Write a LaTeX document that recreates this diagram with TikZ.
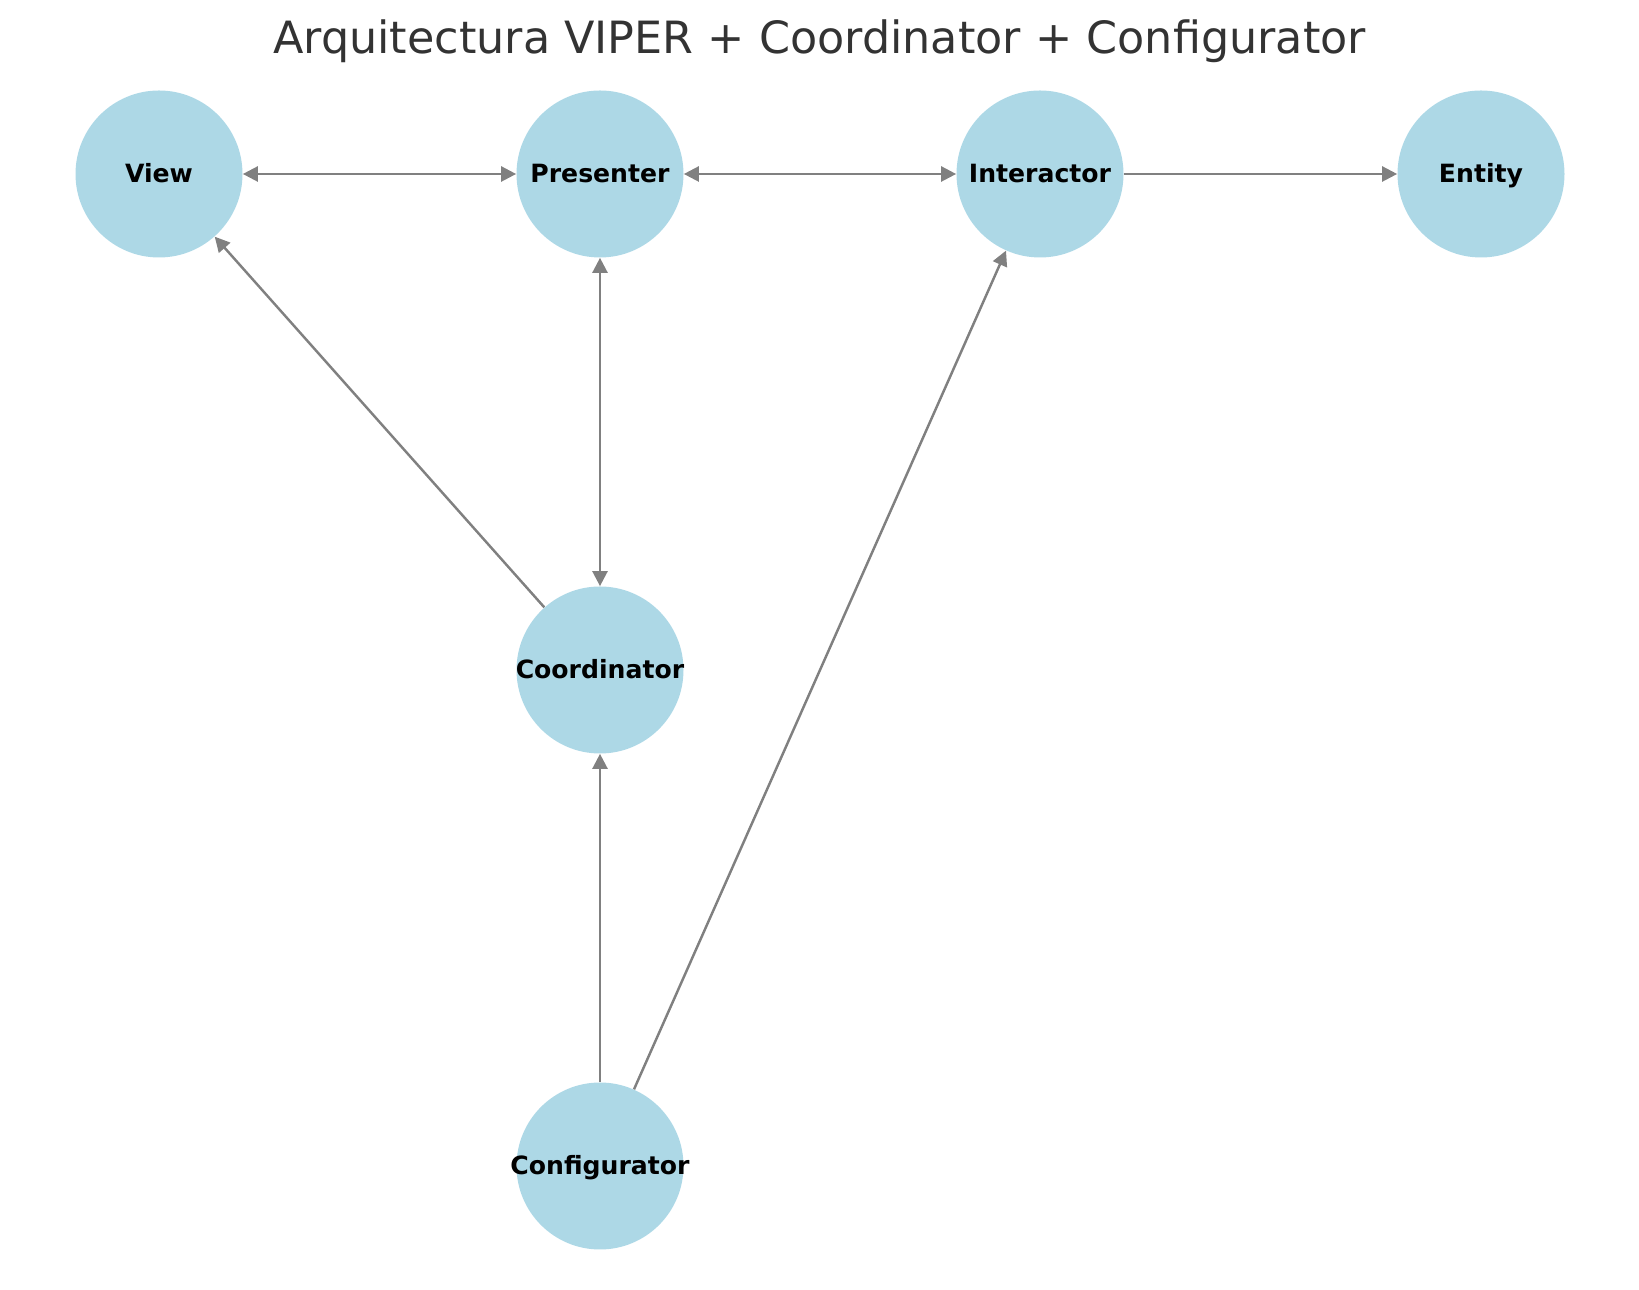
\documentclass[tikz,border=0pt]{standalone}
\usepackage{fontspec}
\setmainfont{DejaVu Sans}
\usepackage{xcolor}
\usetikzlibrary{arrows.meta, positioning}
\definecolor{nodeblue}{RGB}{173,216,230}
\definecolor{titlegray}{RGB}{51,51,51}
\newcommand{\etiq}[1]{\makebox[0pt]{#1}}

\begin{document}
\begin{tikzpicture}
    \tikzstyle{modulo} = [circle, minimum size=3.34cm, inner sep=0pt, fill=nodeblue,
        font=\fontsize{14.3}{17}\selectfont\bfseries, text=black,
        text height=1em, text depth=0em]
    \tikzstyle{arrow} = [draw=gray, line width=1.4pt, -{Stealth[length=0.3cm, width=0.3cm, inset=0pt]}]
    \tikzstyle{both} = [draw=gray, line width=1.4pt,
        {Stealth[length=0.3cm, width=0.3cm, inset=0pt]}-{Stealth[length=0.3cm, width=0.3cm, inset=0pt]}]

    \useasboundingbox (0,0) rectangle (32.78,25.8);

    \node (title) at (16.39, 24.98) [font=\fontsize{25.3}{30}\selectfont, text=titlegray]
        {Arquitectura VIPER + Coordinator + Configurator};

    \node (view) [modulo] at (3.18, 22.32) {\etiq{View}};
    \node (presenter) [modulo] at (12.0, 22.32) {\etiq{Presenter}};
    \node (interactor) [modulo] at (20.8, 22.32) {\etiq{Interactor}};
    \node (entity) [modulo] at (29.62, 22.32) {\etiq{Entity}};
    \node (coordinator) [modulo] at (12.0, 12.4) {\etiq{Coordinator}};
    \node (configurator) [modulo] at (12.0, 2.48) {\etiq{Configurator}};

    \draw [both] (view) -- (presenter);
    \draw [both] (presenter) -- (interactor);
    \draw [arrow] (interactor) -- (entity);
    \draw [both] (presenter) -- (coordinator);
    \draw [arrow] (coordinator) -- (view);
    \draw [arrow] (configurator) -- (coordinator);
    \draw [arrow] (configurator) -- (interactor);
\end{tikzpicture}
\end{document}
